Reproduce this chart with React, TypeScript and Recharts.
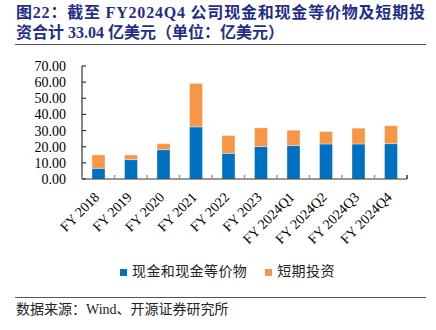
import React from 'react';
import { BarChart, Bar, XAxis, YAxis } from 'recharts';

const categories = ['FY 2018', 'FY 2019', 'FY 2020', 'FY 2021', 'FY 2022', 'FY 2023', 'FY 2024Q1', 'FY 2024Q2', 'FY 2024Q3', 'FY 2024Q4'];
const cashValues = [6.6, 12.0, 18.2, 32.3, 15.9, 20.1, 20.7, 21.7, 21.7, 21.9];
const shortTermValues = [8.3, 2.9, 3.7, 26.9, 11.0, 11.6, 9.5, 7.7, 9.8, 11.1];
const yTicks = [0, 10, 20, 30, 40, 50, 60, 70];
const seriesNames = ['现金和现金等价物', '短期投资'];
const seriesColors = ['#0070C0', '#F79646'];

const data = categories.map((c, i) => ({ name: c, cash: cashValues[i], st: shortTermValues[i] }));

const W = 436;
const H = 330;
const MARGIN = { top: 66, right: 29, bottom: 91, left: 0 };
const YAXIS_W = 82;
const XAXIS_H = 60;
const PLOT_W = W - MARGIN.left - MARGIN.right - YAXIS_W;
const HALF_BAND = PLOT_W / categories.length / 2;

const serif = '"Liberation Serif", "Times New Roman", serif';
const cjk = '"Liberation Serif", "Noto Sans CJK SC", serif';

const XTick = (props: any) => {
  const { x, y, payload, index } = props;
  const ax = x + 2;
  const ay = y + 19;
  return (
    <g>
      <line x1={x - HALF_BAND} x2={x - HALF_BAND} y1={y} y2={y - 4} stroke="#999" strokeWidth={1.5} />
      {index === categories.length - 1 && (
        <line x1={x + HALF_BAND} x2={x + HALF_BAND} y1={y} y2={y - 4} stroke="#333" strokeWidth={1.5} />
      )}
      <text x={ax} y={ay} textAnchor="end" transform={`rotate(-45 ${ax} ${ay})`} fontFamily={serif} fontSize={14} fill="#000">
        {payload.value}
      </text>
    </g>
  );
};

const YTick = (props: any) => {
  const { x, y, payload } = props;
  return (
    <g>
      <line x1={x} x2={x + 4} y1={y} y2={y} stroke="#333" strokeWidth={1.2} />
      <text x={x - 16} y={y} dy={5} textAnchor="end" fontFamily={serif} fontSize={14} fill="#000">
        {Number(payload.value).toFixed(2)}
      </text>
    </g>
  );
};

export default function App() {
  return (
    <div style={{ position: 'absolute', left: 0, top: 0, width: W, height: H, background: '#fff', overflow: 'hidden' }}>
      <div style={{ position: 'absolute', left: 16, top: 3, fontFamily: cjk, fontWeight: 'bold', fontSize: 16, color: '#1F2E8A', whiteSpace: 'nowrap', letterSpacing: 0.8, lineHeight: '20px' }}>
        图22：截至 FY2024Q4 公司现金和现金等价物及短期投
      </div>
      <div style={{ position: 'absolute', left: 16, top: 23, fontFamily: cjk, fontWeight: 'bold', fontSize: 16, color: '#1F2E8A', whiteSpace: 'nowrap', lineHeight: '20px' }}>
        资合计 33.04 亿美元（单位：亿美元）
      </div>
      <div style={{ position: 'absolute', left: 15, top: 44, width: 411, height: 0, borderTop: '1px solid #555' }} />
      <div style={{ position: 'absolute', left: 0, top: 0 }}>
        <BarChart width={W} height={H} data={data} margin={MARGIN}>
          <XAxis
            dataKey="name"
            height={XAXIS_H}
            interval={0}
            tickLine={false}
            tickSize={0}
            tickMargin={0}
            axisLine={{ stroke: '#333', strokeWidth: 1.2 }}
            tick={<XTick />}
          />
          <YAxis
            width={YAXIS_W}
            domain={[0, 70]}
            ticks={yTicks}
            interval={0}
            tickLine={false}
            tickSize={0}
            tickMargin={0}
            axisLine={{ stroke: '#333', strokeWidth: 1.2 }}
            tick={<YTick />}
          />
          <Bar dataKey="cash" name={seriesNames[0]} stackId="a" fill={seriesColors[0]} barSize={13} stroke="rgba(255,255,255,0.35)" strokeWidth={1} isAnimationActive={false} />
          <Bar dataKey="st" name={seriesNames[1]} stackId="a" fill={seriesColors[1]} barSize={13} stroke="rgba(255,255,255,0.35)" strokeWidth={1} isAnimationActive={false} />
        </BarChart>
      </div>
      <div style={{ position: 'absolute', left: 120, top: 263, display: 'flex', fontFamily: cjk, fontSize: 14, color: '#222', lineHeight: '18px', letterSpacing: 0.4, whiteSpace: 'nowrap' }}>
        {seriesNames.map((n, i) => (
          <div key={n} style={{ display: 'flex', alignItems: 'center', marginLeft: i === 0 ? 0 : 18 }}>
            <span style={{ display: 'inline-block', width: 7, height: 7, background: seriesColors[i], marginRight: 5 }} />
            <span>{n}</span>
          </div>
        ))}
      </div>
      <div style={{ position: 'absolute', left: 15, top: 297, width: 411, height: 0, borderTop: '1px solid #555' }} />
      <div style={{ position: 'absolute', left: 16, top: 301, fontFamily: cjk, fontSize: 14, color: '#222', whiteSpace: 'nowrap', lineHeight: '18px' }}>
        数据来源：Wind、开源证券研究所
      </div>
    </div>
  );
}
